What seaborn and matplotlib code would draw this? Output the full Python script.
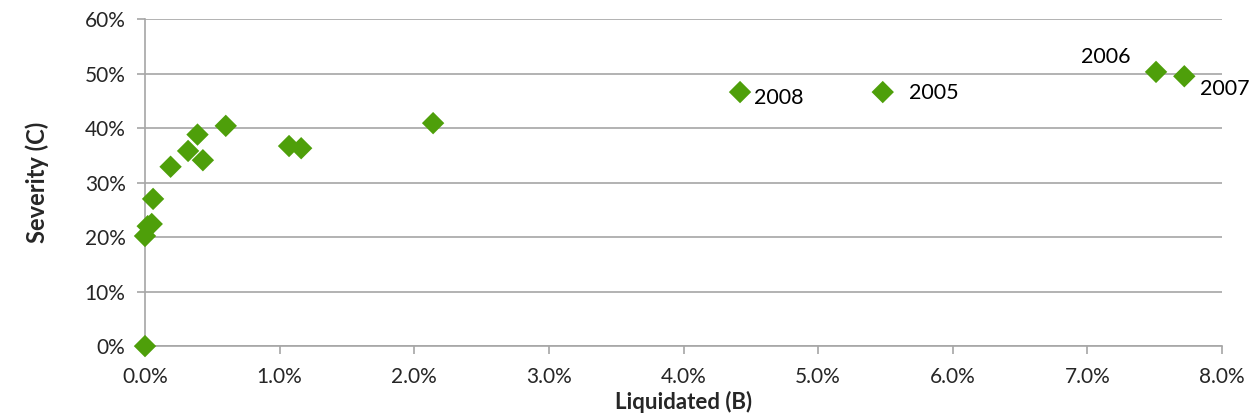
import pandas as pd
import numpy as np
import matplotlib
matplotlib.use("Agg")
import matplotlib.pyplot as plt
import seaborn as sns
from matplotlib.ticker import FuncFormatter, MultipleLocator

# data (fractions)
liquidated = [0.0000, 0.0000, 0.0002, 0.0005, 0.0006, 0.0019, 0.0032, 0.0039, 0.0043,
              0.0060, 0.0107, 0.0116, 0.0214, 0.0442, 0.0548, 0.0751, 0.0772]
severity = [0.000, 0.202, 0.220, 0.224, 0.270, 0.329, 0.358, 0.388, 0.341,
            0.404, 0.367, 0.363, 0.409, 0.466, 0.466, 0.503, 0.495]
year_labels = ["", "", "", "", "", "", "", "", "", "", "", "", "",
               "2008", "2005", "2006", "2007"]
label_offsets = {"2008": (10, -4), "2005": (19, -1), "2006": (-54, 11), "2007": (11, -9)}

df = pd.DataFrame({"liquidated": liquidated, "severity": severity, "year": year_labels})

sns.set_style("white")
plt.rcParams['font.family'] = ['Lato', 'DejaVu Sans']

fig = plt.figure(figsize=(12.5, 4.18), dpi=100)
ax = fig.add_axes([0.116, 0.172, 0.8616, 0.7825])

sns.scatterplot(data=df, x="liquidated", y="severity", marker="D", s=130,
                color="#4E9F0A", edgecolor="none", ax=ax, zorder=3, clip_on=False)

for _, r in df[df.year != ""].iterrows():
    ax.annotate(r.year, (r.liquidated, r.severity), xytext=label_offsets[r.year],
                textcoords="offset points", fontsize=15.5, color="black", va="center")

ax.set_xlim(0, 0.08)
ax.set_ylim(0, 0.6)
ax.xaxis.set_major_locator(MultipleLocator(0.01))
ax.yaxis.set_major_locator(MultipleLocator(0.1))
ax.xaxis.set_major_formatter(FuncFormatter(lambda v, p: f"{v*100:.1f}%"))
ax.yaxis.set_major_formatter(FuncFormatter(lambda v, p: f"{v*100:.0f}%"))

ax.grid(axis="y", color="#a6a6a6", linewidth=1.2)
ax.grid(axis="x", visible=False)
ax.set_axisbelow(True)
for s in ["top", "right"]:
    ax.spines[s].set_visible(False)
for s in ["left", "bottom"]:
    ax.spines[s].set_color("#a6a6a6")
    ax.spines[s].set_linewidth(1.2)
ax.tick_params(axis="both", which="major", length=6, width=1.2, color="#a6a6a6",
               labelsize=15, direction="out", bottom=True, left=True)
ax.tick_params(axis="x", pad=9)
ax.tick_params(axis="y", pad=8)

ax.set_xlabel("Liquidated (B)", fontsize=16, fontweight="bold", labelpad=3)
ax.set_ylabel("Severity (C)", fontsize=17, fontweight="bold", labelpad=26)

fig.savefig("out.png", dpi=100)
